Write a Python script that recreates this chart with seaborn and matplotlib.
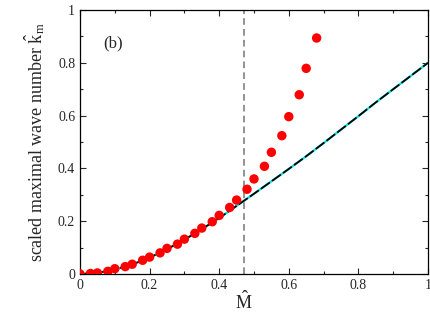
import matplotlib
matplotlib.use("Agg")
import matplotlib.pyplot as plt
import seaborn as sns
import numpy as np
import pandas as pd
from matplotlib.ticker import MultipleLocator

# numerical points (red dots)
m_pts = [0.0, 0.03, 0.05, 0.08, 0.10, 0.13, 0.15, 0.18, 0.20, 0.23, 0.25, 0.28, 0.30, 0.33,
         0.35, 0.38, 0.40, 0.43, 0.45, 0.48, 0.50, 0.53, 0.55, 0.58, 0.60, 0.63, 0.65, 0.68]
k_pts = [0.0, 0.002, 0.004, 0.01, 0.02, 0.028, 0.037, 0.052, 0.064, 0.080, 0.097, 0.113, 0.132, 0.154,
         0.174, 0.198, 0.222, 0.252, 0.280, 0.321, 0.360, 0.408, 0.461, 0.524, 0.596, 0.679, 0.779, 0.894]

# theory curve
m_line = [0.0, 0.05, 0.1, 0.15, 0.2, 0.25, 0.3, 0.35, 0.4, 0.45, 0.5, 0.55, 0.6, 0.65,
          0.7, 0.75, 0.8, 0.85, 0.9, 0.95, 1.0]
k_line = [0.0, 0.004, 0.017, 0.036, 0.062, 0.094, 0.130, 0.170, 0.212, 0.258, 0.304, 0.351, 0.398, 0.446,
          0.496, 0.547, 0.598, 0.650, 0.700, 0.750, 0.80]

m_crit = 0.47

df_pts = pd.DataFrame({"M": m_pts, "k": k_pts})
df_line = pd.DataFrame({"M": m_line, "k": k_line})

sns.set_style("ticks")
plt.rcParams['font.family'] = ['Liberation Serif', 'DejaVu Serif']
plt.rcParams['mathtext.fontset'] = 'custom'
plt.rcParams['mathtext.rm'] = 'Liberation Serif'
plt.rcParams['mathtext.it'] = 'Liberation Serif'

fig = plt.figure(figsize=(4.31, 3.22), dpi=100)
ax = fig.add_axes([80 / 431, 48 / 322, 348 / 431, 264 / 322])

sns.lineplot(data=df_line, x="M", y="k", ax=ax, color="#00e0e8", linewidth=1.6, zorder=2)
sns.lineplot(data=df_line, x="M", y="k", ax=ax, color="black", linewidth=1.3,
             dashes=False, zorder=3).lines[-1].set_dashes([6, 1.5])
ax.axvline(m_crit, color="#808080", linewidth=1.2, linestyle=(0, (4, 2.5)), zorder=1)
sns.scatterplot(data=df_pts, x="M", y="k", ax=ax, color="red", s=46, edgecolor="none", zorder=4)

ax.set_xlim(0, 1)
ax.set_ylim(0, 1)
ax.xaxis.set_major_locator(MultipleLocator(0.2))
ax.yaxis.set_major_locator(MultipleLocator(0.2))
ax.xaxis.set_minor_locator(MultipleLocator(0.1))
ax.yaxis.set_minor_locator(MultipleLocator(0.1))
ax.xaxis.set_major_formatter(lambda v, p: f"{v:g}")
ax.yaxis.set_major_formatter(lambda v, p: f"{v:g}")
ax.tick_params(which="both", direction="in", top=True, right=True, labelsize=10, width=0.8)
ax.tick_params(which="major", length=4)
ax.tick_params(which="minor", length=2.5)
for s in ax.spines.values():
    s.set_linewidth(0.9)
    s.set_color("black")

ax.set_xlabel(r"$\hat{\mathrm{M}}$", fontsize=13, labelpad=0)
ax.xaxis.set_label_coords(m_crit, -0.065)
ax.set_ylabel(r"scaled maximal wave number $\hat{\mathrm{k}}_{\mathrm{m}}$", fontsize=13, labelpad=8)
ax.text(0.095, 0.875, "(b)", fontsize=12, ha="center", va="center")

fig.savefig("out.png", dpi=100)
